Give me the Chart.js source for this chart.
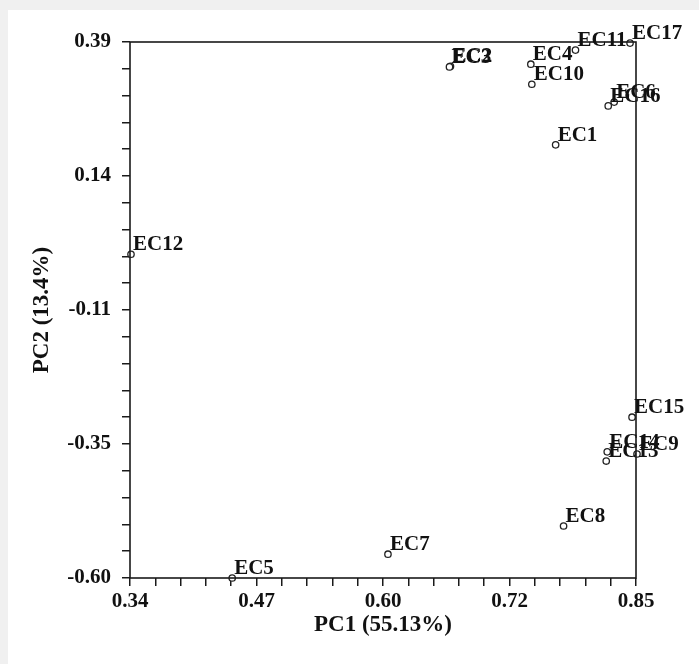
<!DOCTYPE html>
<html>
<head>
<meta charset="utf-8">
<script src="https://cdn.jsdelivr.net/npm/chart.js@4.4.1/dist/chart.umd.min.js"></script>
<style>
  html, body { margin: 0; padding: 0; background: #f0f0f0; }
  #wrap { position: absolute; left: 8px; top: 10px; width: 691px; height: 654px; background: #fff; }
</style>
</head>
<body>
<div id="wrap"><canvas id="pca"></canvas></div>
<script>
// samples and their scores on the first two components
const sampleNames = ['EC1', 'EC2', 'EC3', 'EC4', 'EC5', 'EC6', 'EC7', 'EC8', 'EC9', 'EC10', 'EC11', 'EC12', 'EC13', 'EC14', 'EC15', 'EC16', 'EC17'];
const pc1 = [0.769, 0.663, 0.662, 0.744, 0.443, 0.828, 0.600, 0.777, 0.851, 0.745, 0.789, 0.341, 0.820, 0.821, 0.846, 0.822, 0.844];
const pc2 = [0.200, 0.345, 0.344, 0.349, -0.600, 0.279, -0.556, -0.504, -0.371, 0.312, 0.375, -0.002, -0.384, -0.367, -0.303, 0.272, 0.388];

// axis ranges and tick labels
const xRange = [0.34, 0.85];
const yRange = [-0.60, 0.39];
const xTickLabels = ['0.34', '0.47', '0.60', '0.72', '0.85'];
const yTickLabels = ['-0.60', '-0.35', '-0.11', '0.14', '0.39'];

const ink = '#1a1a1a';

// 20 small steps per axis, a label on every 5th one
function minorTicks(scale) {
    const lo = scale.min, hi = scale.max;
    scale.ticks = Array.from({ length: 21 }, (_, i) => ({ value: lo + i * (hi - lo) / 20 }));
}

// draws the box round the plot and the sample names beside the points
const boxAndLabels = {
    id: 'boxAndLabels',
    afterDatasetsDraw(chart) {
        const ctx = chart.ctx;
        const a = chart.chartArea;
        ctx.save();
        ctx.strokeStyle = ink;
        ctx.lineWidth = 1.6;
        ctx.strokeRect(a.left, a.top, a.right - a.left, a.bottom - a.top);

        ctx.fillStyle = '#111';
        ctx.font = "bold 21px 'Liberation Serif'";
        ctx.textBaseline = 'alphabetic';
        ctx.textAlign = 'left';
        chart.getDatasetMeta(0).data.forEach((pt, i) => {
            ctx.fillText(sampleNames[i], pt.x + 2, pt.y - 4);
        });
        ctx.restore();
    }
};

const ctx = document.getElementById('pca').getContext('2d');
const chart = new Chart(ctx, {
    type: 'scatter',
    data: {
        datasets: [{
            label: 'samples',
            data: pc1.map((x, i) => ({ x: x, y: pc2[i] })),
            pointStyle: 'circle',
            pointRadius: 3.2,
            pointBorderWidth: 1.3,
            pointBorderColor: '#222',
            pointBackgroundColor: '#fff',
            clip: false,
        }],
    },
    options: {
        responsive: true,
        maintainAspectRatio: false,
        animation: false,
        events: [],
        layout: { padding: { left: 0, top: 32, right: 63, bottom: 0 } },
        plugins: { legend: { display: false }, tooltip: { enabled: false } },
        scales: {
            x: {
                type: 'linear', min: xRange[0], max: xRange[1],
                afterBuildTicks: minorTicks,
                afterFit: (s) => { s.height = 86; },
                border: { display: false },
                grid: { display: true, drawOnChartArea: false, drawTicks: true, tickLength: 8, color: ink, lineWidth: 1.5 },
                ticks: {
                    autoSkip: false, maxRotation: 0, padding: 3, color: '#111',
                    font: { family: "'Liberation Serif'", size: 21, weight: 'bold' },
                    callback: (v, i) => (i % 5 === 0 ? xTickLabels[i / 5] : ''),
                },
                title: {
                    display: true, text: 'PC1 (55.13%)', color: '#111',
                    font: { family: "'Liberation Serif'", size: 23, weight: 'bold' },
                    padding: { top: 0, bottom: 25 },
                },
            },
            y: {
                type: 'linear', min: yRange[0], max: yRange[1],
                afterBuildTicks: minorTicks,
                afterFit: (s) => { s.width = 122; },
                border: { display: false },
                grid: { display: true, drawOnChartArea: false, drawTicks: true, tickLength: 8, color: ink, lineWidth: 1.5 },
                ticks: {
                    autoSkip: false, padding: 11, color: '#111',
                    font: { family: "'Liberation Serif'", size: 21, weight: 'bold' },
                    callback: (v, i) => (i % 5 === 0 ? yTickLabels[i / 5] : ''),
                },
                title: {
                    display: true, text: 'PC2 (13.4%)', color: '#111',
                    font: { family: "'Liberation Serif'", size: 23, weight: 'bold' },
                    padding: { top: 20, bottom: 0 },
                },
            },
        },
    },
    plugins: [boxAndLabels],
});
</script>
</body>
</html>
